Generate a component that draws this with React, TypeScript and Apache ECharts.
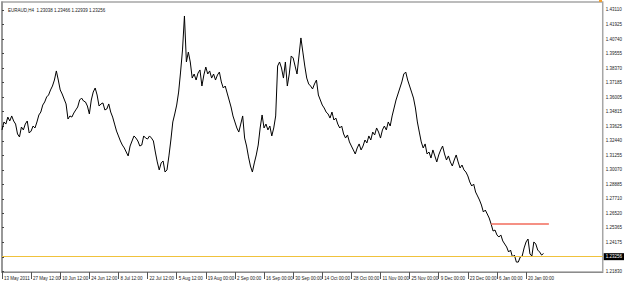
import React, { useEffect, useRef } from "react";
import * as echarts from "echarts";

// ---- DATA ----
const chartTitle = "EURAUD,H4  1.23038 1.23466 1.22939 1.23256";
const barsPerSample = 4; // one sampled close every 4 H4 bars
const barsPerTick = 60; // 2 weeks of H4 bars between time labels
const axisBarMax = 1238;

const xTickLabels = [
  "13 May 2011", "27 May 12:00", "10 Jun 12:00", "24 Jun 12:00", "8 Jul 12:00",
  "22 Jul 12:00", "5 Aug 12:00", "19 Aug 00:00", "2 Sep 00:00", "16 Sep 00:00",
  "30 Sep 00:00", "14 Oct 00:00", "28 Oct 00:00", "11 Nov 00:00", "25 Nov 00:00",
  "9 Dec 00:00", "23 Dec 00:00", "6 Jan 00:00", "20 Jan 00:00",
];

const yTickValues = [
  1.4311, 1.41925, 1.4074, 1.39555, 1.3837, 1.37185, 1.36005, 1.34815, 1.33625,
  1.3244, 1.31255, 1.3007, 1.28885, 1.2771, 1.2652, 1.25365, 1.24175, 1.2299, 1.2183,
];
const yMin = 1.2175;
const yMax = 1.4376;

const closesMay = [
  1.3333, 1.3398, 1.3381, 1.3438, 1.3406, 1.3447, 1.3406, 1.3381, 1.33, 1.3276,
  1.3357, 1.3333, 1.3381, 1.3406, 1.3308, 1.3324, 1.3365, 1.3349, 1.3398, 1.3455,
  1.3479, 1.3536, 1.3561, 1.3602, 1.3618, 1.3659, 1.3691, 1.374, 1.3814, 1.374, 1.3659,
];
const closesJun = [
  1.3626, 1.3585, 1.3545, 1.3422, 1.3447, 1.3438, 1.3471, 1.3496, 1.352, 1.3577,
  1.3593, 1.3569, 1.3561, 1.3528, 1.3463, 1.3577, 1.3642, 1.3675, 1.3618, 1.3528,
];
const closesJul = [
  1.3545, 1.3553, 1.3496, 1.3504, 1.3545, 1.3479, 1.3438, 1.3381, 1.3324, 1.3284,
  1.3243, 1.321, 1.3186, 1.3153, 1.3121, 1.3202, 1.3243, 1.3284, 1.3267, 1.3243,
  1.3202, 1.321, 1.3284, 1.3267, 1.3259, 1.3284, 1.3267, 1.3243, 1.3153, 1.3072,
  1.3007, 1.3064, 1.308, 1.299, 1.3007, 1.3121, 1.3251, 1.3398, 1.3463, 1.3536,
];
const closesAug = [
  1.3642, 1.3805, 1.3985, 1.4262, 1.3887, 1.3968, 1.3887, 1.3756, 1.3789, 1.374,
  1.3797, 1.3822, 1.3691, 1.3781, 1.3846, 1.3789, 1.3814, 1.3756, 1.3789, 1.374,
  1.3781, 1.3805, 1.3724, 1.3675, 1.3691, 1.3634, 1.3577, 1.352, 1.3447,
];
const closesSep = [
  1.3398, 1.3349, 1.3316, 1.3381, 1.3447, 1.3267, 1.3202, 1.3113, 1.3039, 1.299,
  1.3064, 1.3129, 1.321, 1.3349, 1.3455, 1.3349, 1.3381, 1.3333, 1.3365, 1.3284,
  1.3349, 1.3447, 1.3854,
];
const closesOct = [
  1.3887, 1.3838, 1.3756, 1.3887, 1.3691, 1.3789, 1.3936, 1.392, 1.3854, 1.3789,
  1.3936, 1.4083, 1.3968, 1.3854, 1.3756, 1.3708, 1.3691, 1.3667, 1.3708, 1.374,
  1.3618, 1.3577, 1.3536, 1.3512, 1.3479,
];
const closesNov = [
  1.3463, 1.343, 1.3479, 1.3414, 1.343, 1.3381, 1.3349, 1.3365, 1.33, 1.3267,
  1.3292, 1.3235, 1.3202, 1.317, 1.3137, 1.3186, 1.3219, 1.317, 1.3202, 1.3251,
  1.3227, 1.3284, 1.3251, 1.3316, 1.3292, 1.3349, 1.3316, 1.3267, 1.3333, 1.3365,
  1.3333, 1.3398, 1.3365, 1.3447, 1.3512, 1.3577, 1.3626, 1.3675, 1.3724, 1.3789,
  1.3805, 1.374, 1.3691, 1.3642, 1.3593, 1.3512, 1.3398, 1.3316, 1.3235, 1.3186,
  1.3219, 1.3137,
];
const closesDec = [
  1.3153, 1.3104, 1.317, 1.3121, 1.3072, 1.3129, 1.317, 1.3202, 1.3137, 1.3088,
  1.3121, 1.3072, 1.3039, 1.3088, 1.3129, 1.3072, 1.3023, 1.3047, 1.3007, 1.299,
  1.2958, 1.2909, 1.2876, 1.2892, 1.2827, 1.2795, 1.2762,
];
const closesJan = [
  1.2721, 1.2664, 1.268, 1.2648, 1.2615, 1.2566, 1.2509, 1.2517, 1.2477, 1.246,
  1.2477, 1.2428, 1.2403, 1.2379, 1.2338, 1.2354, 1.2297, 1.2313, 1.2256, 1.2256,
  1.2297, 1.2305, 1.2371, 1.242, 1.2444, 1.2322, 1.2305, 1.242, 1.2403, 1.2354,
  1.2338, 1.2313, 1.23256,
];

const lastPrice = 1.23256;
const redLevel = 1.2566;
const redStartBar = 1008;
const redEndBar = 1127;

const closes = [
  ...closesMay, ...closesJun, ...closesJul, ...closesAug, ...closesSep,
  ...closesOct, ...closesNov, ...closesDec, ...closesJan,
];

export default function App() {
  const ref = useRef<HTMLDivElement>(null);
  useEffect(() => {
    if (!ref.current) return;
    const chart = echarts.init(ref.current, null, { renderer: "svg" });
    const xTickBars = xTickLabels.map((_, i) => i * barsPerTick);
    const font = "Liberation Sans";
    chart.setOption({
      animation: false,
      backgroundColor: "#ffffff",
      title: {
        text: chartTitle,
        left: 3,
        top: 3,
        textStyle: { fontSize: 4.5, fontWeight: "normal", color: "#1a1a1a", fontFamily: font },
      },
      graphic: [
        { type: "rect", shape: { x: 599, y: 0, width: 3, height: 2 }, style: { fill: "#f0a030" } },
      ],
      grid: {
        left: 2,
        top: 2,
        right: 20,
        bottom: 11,
        show: true,
        borderColor: "#a6a6a6",
        borderWidth: 1.5,
        backgroundColor: "#ffffff",
      },
      xAxis: {
        type: "value",
        min: 0,
        max: axisBarMax,
        splitLine: { show: false },
        axisLine: { show: true, lineStyle: { color: "#8c8c8c", width: 1 } },
        axisTick: { show: true, customValues: xTickBars, length: 7, lineStyle: { color: "#555" } },
        axisLabel: {
          customValues: xTickBars,
          formatter: (v: number) => xTickLabels[Math.round(v / barsPerTick)] ?? "",
          align: "left",
          padding: [0, 0, 0, 2],
          margin: 4,
          fontSize: 4.5,
          color: "#222",
          fontFamily: font,
        },
      },
      yAxis: {
        type: "value",
        position: "right",
        min: yMin,
        max: yMax,
        scale: true,
        splitLine: { show: false },
        axisLine: { show: true, lineStyle: { color: "#8c8c8c", width: 1.5 } },
        axisTick: { show: true, customValues: yTickValues, length: 2, lineStyle: { color: "#444" } },
        axisLabel: {
          customValues: yTickValues,
          formatter: (v: number) => v.toFixed(5),
          margin: 3,
          fontSize: 4.5,
          color: "#222",
          fontFamily: font,
        },
      },
      series: [
        {
          type: "line",
          data: closes.map((c, i) => [i * barsPerSample, c]),
          showSymbol: false,
          symbol: "none",
          lineStyle: { color: "#000000", width: 1 },
          z: 3,
          markLine: {
            symbol: "none",
            silent: true,
            data: [
              {
                yAxis: lastPrice,
                lineStyle: { color: "#f0c23c", width: 1, type: "solid" },
                label: {
                  show: true,
                  position: "end",
                  formatter: lastPrice.toFixed(5),
                  backgroundColor: "#000000",
                  color: "#ffffff",
                  fontSize: 4.5,
                  fontFamily: font,
                  padding: [1, 2, 1, 2],
                  distance: 1,
                },
              },
              [
                {
                  coord: [redStartBar, redLevel],
                  lineStyle: { color: "#f26b5b", width: 1.5, type: "solid" },
                  label: { show: false },
                },
                { coord: [redEndBar, redLevel] },
              ],
            ],
          },
        },
      ],
    });
    return () => chart.dispose();
  }, []);
  return (
    <div
      ref={ref}
      style={{ position: "fixed", left: 0, top: 0, width: 625, height: 283, background: "#fff" }}
    />
  );
}
